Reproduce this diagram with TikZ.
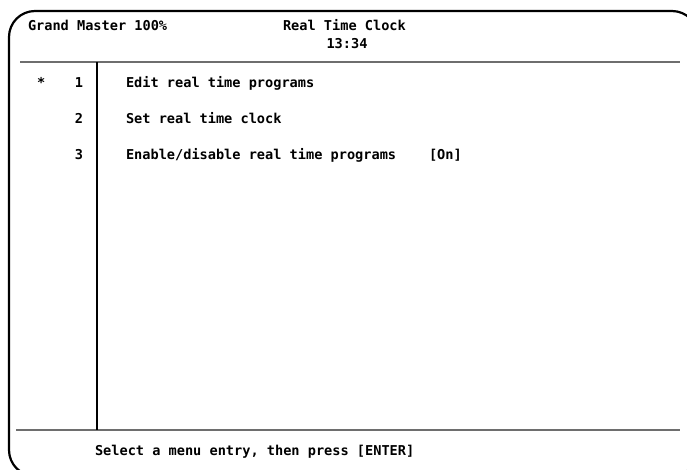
\documentclass[tikz,border=0pt]{standalone}
\usepackage{fontspec}
\newfontfamily\screenfont{DejaVu Sans Mono}[Scale=1.0]
\begin{document}
\begin{tikzpicture}[x=1pt, y=-1pt,
  screentext/.style={inner sep=0pt, outer sep=0pt, anchor=base west,
    font=\screenfont\bfseries\fontsize{13.6pt}{16pt}\selectfont},
  numtext/.style={screentext, anchor=base east},
  frameline/.style={line width=2.2pt, black},
  rule/.style={line width=2pt, color=rulegray},
  colrule/.style={line width=2pt, black}]
\definecolor{rulegray}{HTML}{6E6E6E}
\useasboundingbox (0,0) rectangle (687,469);
\clip (0,0) rectangle (687,469);

% outer screen frame (runs past the right and bottom edges)
\draw[frameline, rounded corners=26pt] (9,11) rectangle (698,476);

% header and footer separators, menu column rule
\coordinate (hdrL) at (20,62);
\coordinate (hdrR) at (680,62);
\coordinate (ftrL) at (16,430);
\coordinate (ftrR) at (680,430);
\coordinate (colT) at (97,62);
\coordinate (colB) at (97,430);
\draw[rule] (hdrL) -- (hdrR);
\draw[rule] (ftrL) -- (ftrR);
\draw[colrule] (colT) -- (colB);

% header
\node[screentext] (master) at (28,30) {Grand Master 100\%};
\node[screentext] (title) at (283,30) {Real Time Clock};
\node[screentext, anchor=base] (clock) at (347,48) {13:34};

% menu entries
\node[screentext] (mark) at (37,87) {*};
\node[numtext] (n1) at (83,87) {1};
\node[numtext] (n2) at (83,123) {2};
\node[numtext] (n3) at (83,159) {3};
\node[screentext] (e1) at (126,87) {Edit real time programs};
\node[screentext] (e2) at (126,123) {Set real time clock};
\node[screentext] (e3) at (126,159) {Enable/disable real time programs};
\node[screentext] (state) at (429,159) {[On]};

% footer prompt
\node[screentext] (prompt) at (95,455) {Select a menu entry, then press [ENTER]};
\end{tikzpicture}
\end{document}
